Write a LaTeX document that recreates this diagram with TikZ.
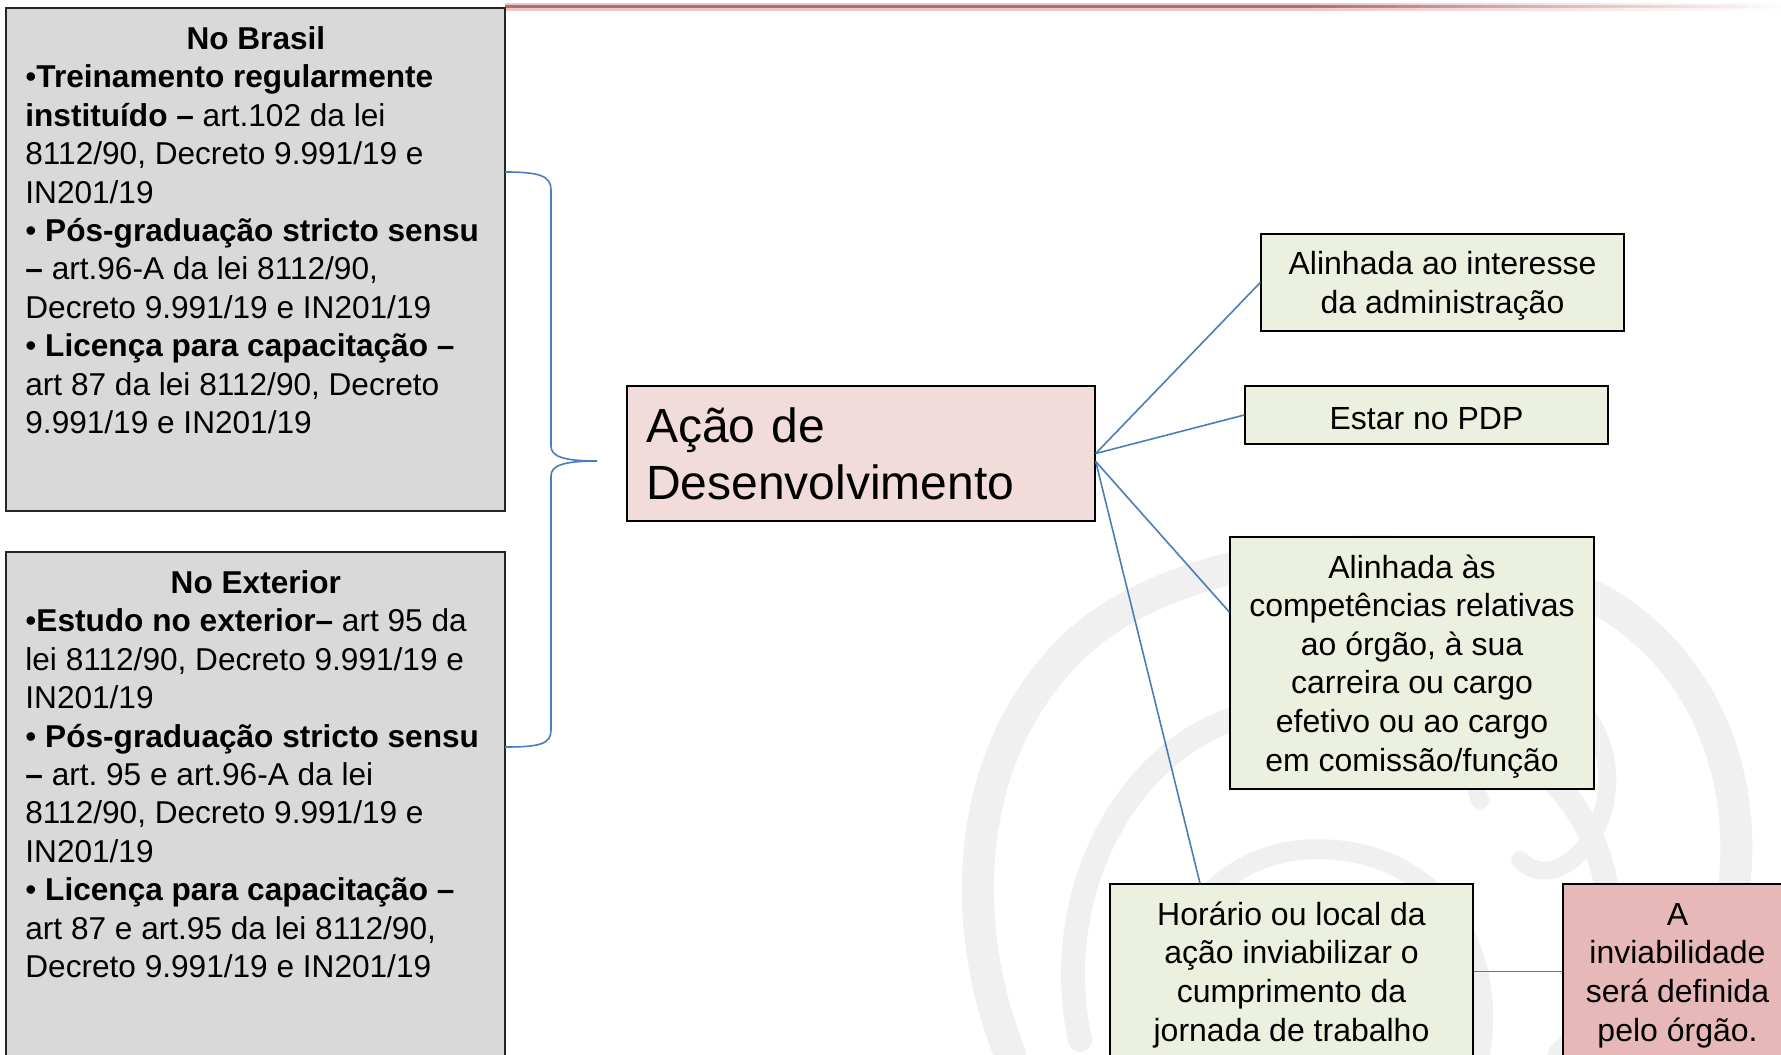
\documentclass[tikz,border=0pt]{standalone}
\usepackage{fontspec}
\setmainfont{Liberation Sans}
\frenchspacing
\definecolor{grayfill}{HTML}{D9D9D9}
\definecolor{pinkfill}{HTML}{F2DCDB}
\definecolor{greenfill}{HTML}{EBF1DE}
\definecolor{redfill}{HTML}{E6B9B8}
\definecolor{connblue}{HTML}{4A7EBB}
\definecolor{topred}{HTML}{B86A6A}
\definecolor{toppink}{HTML}{EBC8C8}
\definecolor{wmark}{HTML}{F0F0F0}
\begin{document}
\begin{tikzpicture}[x=0.5pt,y=-0.5pt,
  sidebox/.style={draw=black!85,line width=0.7pt,fill=grayfill,inner sep=0pt},
  sidetext/.style={anchor=north west,inner sep=0pt,align=left,
    font=\fontsize{15.8}{19.2}\selectfont},
  greenbox/.style={draw=black,line width=0.7pt,fill=greenfill,align=center,inner sep=0pt,
    font=\fontsize{16}{19.3}\selectfont},
  conn/.style={draw=connblue,line width=0.8pt},
  wm/.style={draw=wmark,line cap=round}]
\clip (0,0) rectangle (1781,1054);
\useasboundingbox (0,0) rectangle (1781,1054);
\fill[white] (0,0) rectangle (1781,1054);

% watermark (faint background logo)
\draw[wm,line width=16pt] (1010,1054) .. controls (960,930) and (960,760) .. (1070,650)
  .. controls (1180,540) and (1450,520) .. (1600,600)
  .. controls (1740,680) and (1770,860) .. (1700,1000);
\draw[wm,line width=12pt] (1080,1040) .. controls (1050,900) and (1120,760) .. (1230,720)
  .. controls (1360,670) and (1560,720) .. (1600,860)
  .. controls (1630,960) and (1590,1030) .. (1560,1054);
\draw[wm,line width=10pt] (1150,1054) .. controls (1150,960) and (1200,860) .. (1300,850)
  .. controls (1420,840) and (1500,930) .. (1480,1054);
\draw[wm,line width=9pt] (1480,800) .. controls (1440,700) and (1560,640) .. (1600,740)
  .. controls (1630,820) and (1560,900) .. (1520,860);
\draw[wm,line width=9pt] (1300,1000) .. controls (1280,930) and (1380,920) .. (1390,990);

% top decorative line (fading to the right)
\fill[toppink] (505,3) rectangle (1300,11);
\fill[topred] (505,5.5) rectangle (1300,8.5);
\foreach \i in {0,...,39}{
  \pgfmathsetmacro{\xa}{1300+\i*12.1}
  \pgfmathsetmacro{\xb}{1300+(\i+1)*12.1+0.5}
  \pgfmathsetmacro{\pc}{100-\i*2.5}
  \fill[toppink!\pc!white] (\xa,3) rectangle (\xb,11);
  \fill[topred!\pc!white] (\xa,5.5) rectangle (\xb,8.5);
}

% left boxes
\node[sidebox,minimum width=249.5pt,minimum height=251.5pt] (brasil) at (255.5,259.5) {};
\node[sidetext] (brasiltxt) at (25,21) {\rule{0pt}{14pt}\makebox[230.5pt][c]{\textbf{No Brasil}}\\
•\textbf{Treinamento regularmente}\\
\textbf{instituído –} art.102 da lei\\
8112/90, Decreto 9.991/19 e\\
IN201/19\\
• \textbf{Pós-graduação stricto sensu}\\
\textbf{–} art.96-A da lei 8112/90,\\
Decreto 9.991/19 e IN201/19\\
• \textbf{Licença para capacitação –}\\
art 87 da lei 8112/90, Decreto\\
9.991/19 e IN201/19};

\node[sidebox,minimum width=249.5pt,minimum height=254pt] (exterior) at (255.5,806) {};
\node[sidetext] (exteriortxt) at (25,565) {\rule{0pt}{14pt}\makebox[230.5pt][c]{\textbf{No Exterior}}\\
•\textbf{Estudo no exterior–} art 95 da\\
lei 8112/90, Decreto 9.991/19 e\\
IN201/19\\
• \textbf{Pós-graduação stricto sensu}\\
\textbf{–} art. 95 e art.96-A da lei\\
8112/90, Decreto 9.991/19 e\\
IN201/19\\
• \textbf{Licença para capacitação –}\\
art 87 e art.95 da lei 8112/90,\\
Decreto 9.991/19 e IN201/19};

% brace
\coordinate (bracetop) at (505,172);
\coordinate (bracetip) at (597,461);
\coordinate (bracebot) at (505,747);
\draw[conn] (bracetop) .. controls (540,172) and (551,176) .. (551,190) -- (551,446)
  .. controls (551,456) and (562,461) .. (bracetip)
  .. controls (562,461) and (551,466) .. (551,476) -- (551,730)
  .. controls (551,744) and (540,747) .. (bracebot);

% central node
\node[draw=black,line width=0.7pt,fill=pinkfill,text width=215pt,inner xsep=9.5pt,inner ysep=0pt,
  minimum height=67.5pt,align=left,font=\fontsize{24}{28.5}\selectfont] (acao) at (861,453.5)
  {Ação de\\Desenvolvimento};

% right nodes
\node[greenbox,minimum width=181.5pt,minimum height=48.5pt] (interesse) at (1442.5,282.5)
  {\rule{0pt}{15pt}Alinhada ao interesse\\da administração};
\node[greenbox,minimum width=181.5pt,minimum height=29pt] (pdp) at (1426.5,415)
  {\rule{0pt}{15pt}Estar no PDP};
\node[greenbox,minimum width=182pt,minimum height=126pt] (compet) at (1412,663)
  {\rule{0pt}{15pt}Alinhada às\\competências relativas\\ao órgão, à sua\\carreira ou cargo\\efetivo ou ao cargo\\em comissão/função};
\node[greenbox,minimum width=181.5pt,minimum height=87.5pt] (horario) at (1291.5,971.5)
  {\rule{0pt}{15pt}Horário ou local da\\ação inviabilizar o\\cumprimento da\\jornada de trabalho};
\node[greenbox,fill=redfill,minimum width=114.5pt,minimum height=87.5pt] (inviab) at (1677.5,971.5)
  {\rule{0pt}{15pt}A\\inviabilidade\\será definida\\pelo órgão.};

% connectors
\draw[conn] (acao.east) -- (interesse.west);
\draw[conn] (acao.east) -- (pdp.west);
\draw[conn] ([yshift=-4pt]acao.east) -- ([yshift=25.5pt]compet.west);
\draw[conn] ([yshift=-4pt]acao.east) -- ([xshift=-45.75pt]horario.north);
\draw[conn] (horario.east) -- (inviab.west);
\end{tikzpicture}
\end{document}
